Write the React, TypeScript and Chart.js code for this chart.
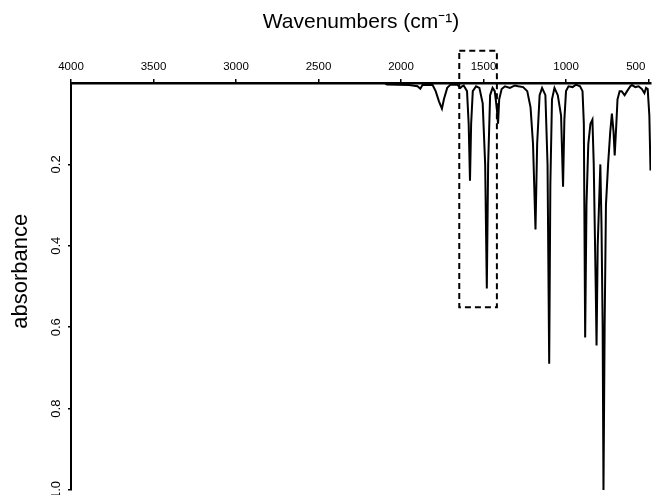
import React, { useEffect, useRef } from 'react';
import { Chart, registerables } from 'chart.js';

Chart.register(...registerables);

// ---- data ----
const wavenumbers = [
  4000, 2100, 2085, 1950, 1900, 1883, 1870, 1810, 1790, 1770, 1752, 1740, 1720, 1700,
  1660, 1640, 1630, 1620, 1600, 1590, 1582, 1575, 1565, 1545, 1525, 1505, 1490, 1480,
  1472, 1460, 1445, 1432, 1420, 1412, 1405, 1390, 1370, 1340, 1310, 1290, 1260, 1235,
  1215, 1200, 1185, 1175, 1160, 1145, 1125, 1112, 1102, 1095, 1085, 1070, 1050, 1030,
  1018, 1010, 1000, 985, 960, 940, 915, 900, 892, 884, 876, 865, 852, 840, 832, 820,
  815, 808, 800, 792, 785, 778, 773, 766, 758, 745, 732, 722, 712, 705, 695, 688, 675,
  663, 645, 630, 610, 600, 580, 560, 540, 525, 515, 505, 495, 488,
];
const absorbance = [
  0, 0, 0.004, 0.005, 0.008, 0.014, 0.005, 0.004, 0.02, 0.045, 0.063, 0.04, 0.012, 0.004,
  0.004, 0.012, 0.008, 0.006, 0.02, 0.1, 0.24, 0.1, 0.02, 0.008, 0.012, 0.05, 0.2, 0.505,
  0.2, 0.03, 0.012, 0.02, 0.06, 0.1, 0.04, 0.015, 0.008, 0.012, 0.006, 0.008, 0.01, 0.02,
  0.06, 0.15, 0.36, 0.15, 0.03, 0.012, 0.03, 0.2, 0.69, 0.25, 0.04, 0.012, 0.03, 0.08,
  0.255, 0.09, 0.02, 0.008, 0.01, 0.004, 0.008, 0.02, 0.1, 0.625, 0.3, 0.15, 0.1, 0.09, 0.2, 0.5,
  0.645, 0.4, 0.3, 0.2, 0.35, 0.6, 1.0, 0.6, 0.3, 0.2, 0.12, 0.075, 0.12, 0.178, 0.1, 0.04, 0.02,
  0.02, 0.03, 0.02, 0.008, 0.005, 0.01, 0.008, 0.015, 0.025, 0.012, 0.015, 0.08, 0.215,
];

const xTickValues = [4000, 3500, 3000, 2500, 2000, 1500, 1000, 500];
const yTickValues = [0.2, 0.4, 0.6, 0.8, 1.0];
const xMin = 485;
const xMax = 4000;
const yMin = 0;
const yMax = 1;

// dashed highlight region (data units)
const boxFrom = 1647;
const boxTo = 1419;
const boxTop = -0.079;
const boxBottom = 0.551;

const xTitle = 'Wavenumbers (cm\u207B\u00B9)';
const yTitle = '\u00A0\u00A0\u00A0\u00A0\u00A0absorbance';

const FONT = "'Liberation Sans', Arial, Helvetica, sans-serif";

const dashedBoxPlugin = {
  id: 'dashedBox',
  afterDraw(chart: any) {
    const { ctx, scales } = chart;
    const x = scales.x;
    const y = scales.y;
    const x1 = x.getPixelForValue(boxFrom);
    const x2 = x.getPixelForValue(boxTo);
    const y1 = y.getPixelForValue(boxTop);
    const y2 = y.getPixelForValue(boxBottom);
    ctx.save();
    ctx.strokeStyle = '#000';
    ctx.lineWidth = 2;
    ctx.setLineDash([6, 4]);
    ctx.strokeRect(x1, y1, x2 - x1, y2 - y1);
    ctx.restore();
  },
};

export default function App() {
  const canvasRef = useRef<HTMLCanvasElement | null>(null);

  useEffect(() => {
    const canvas = canvasRef.current;
    if (!canvas) return;
    Chart.defaults.font.family = FONT;
    Chart.defaults.color = '#000';

    const chart = new Chart(canvas, {
      type: 'line',
      data: {
        datasets: [
          {
            data: wavenumbers.map((w, i) => ({ x: w, y: absorbance[i] })),
            borderColor: '#000',
            borderWidth: 2,
            pointRadius: 0,
            tension: 0,
            fill: false,
          },
        ],
      },
      options: {
        animation: false,
        responsive: false,
        layout: { padding: { left: 0, top: 0, right: 1, bottom: 5 } },
        plugins: {
          legend: { display: false },
          tooltip: { enabled: false },
        },
        scales: {
          x: {
            type: 'linear',
            position: 'top',
            reverse: true,
            min: xMin,
            max: xMax,
            afterBuildTicks: (s: any) => {
              s.ticks = xTickValues.map((v) => ({ value: v }));
            },
            afterFit: (s: any) => {
              s.height = 83;
              s.paddingLeft = 0;
              s.paddingRight = 0;
            },
            ticks: {
              autoSkip: false,
              maxRotation: 0,
              minRotation: 0,
              padding: 5,
              font: { size: 11.5, family: FONT },
              color: '#000',
              callback: (v: any) => (v === 500 ? '500' + '\u00A0'.repeat(8) : String(v)),
            },
            grid: {
              display: true,
              drawOnChartArea: false,
              drawTicks: true,
              tickLength: 4,
              color: '#000',
              lineWidth: 1.5,
            },
            border: { display: true, color: '#000', width: 2.5 },
            title: {
              display: true,
              text: xTitle,
              font: { size: 21, family: FONT },
              color: '#000',
              padding: { top: 10, bottom: 0 },
            },
          },
          y: {
            type: 'linear',
            position: 'left',
            reverse: true,
            min: yMin,
            max: yMax,
            afterBuildTicks: (s: any) => {
              s.ticks = yTickValues.map((v) => ({ value: v }));
            },
            afterFit: (s: any) => {
              s.width = 71;
              s.paddingTop = 0;
              s.paddingBottom = 0;
            },
            ticks: {
              autoSkip: false,
              minRotation: 90,
              maxRotation: 90,
              crossAlign: 'center',
              padding: 3,
              font: { size: 13, family: FONT },
              color: '#000',
              callback: (v: any) => Number(v).toFixed(1),
            },
            grid: {
              display: true,
              drawOnChartArea: false,
              drawTicks: true,
              tickLength: 3,
              color: '#000',
              lineWidth: 1.5,
            },
            border: { display: true, color: '#000', width: 2 },
            title: {
              display: true,
              text: yTitle,
              font: { size: 22, family: FONT },
              color: '#000',
              padding: { top: 8, bottom: 0 },
            },
          },
        },
      },
      plugins: [dashedBoxPlugin],
    } as any);

    return () => chart.destroy();
  }, []);

  return (
    <div style={{ position: 'fixed', left: 0, top: 0, width: 652, height: 495, background: '#fff' }}>
      <canvas ref={canvasRef} width={652} height={495} style={{ display: 'block' }} />
    </div>
  );
}
